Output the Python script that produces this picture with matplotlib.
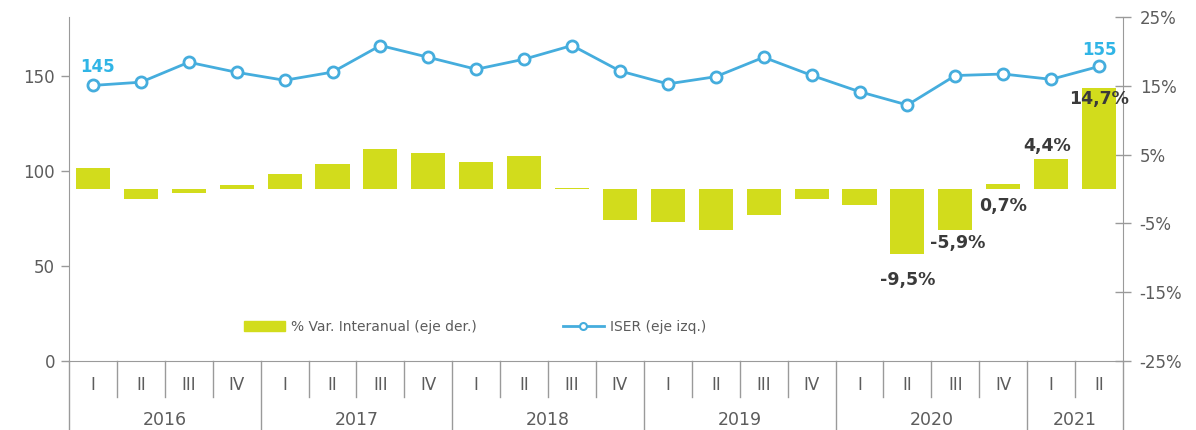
import matplotlib
matplotlib.use("Agg")
import matplotlib.pyplot as plt
import matplotlib.transforms as mtransforms
from matplotlib.lines import Line2D
from matplotlib.patches import Patch

# ---- data ----
years = ["2016", "2017", "2018", "2019", "2020", "2021"]
quarters_per_year = [4, 4, 4, 4, 4, 2]
quarter_names = ["I", "II", "III", "IV"]
iser = [145, 146.7, 157.2, 151.9, 147.7, 152.0, 166.0, 159.8, 153.5, 158.8, 166.0,
        152.6, 145.8, 149.6, 159.8, 150.3, 141.7, 134.7, 150.2, 151.0, 148.2, 155]
var_ia = [3.0, -1.45, -0.6, 0.6, 2.2, 3.7, 5.8, 5.2, 3.9, 4.75, 0.2,
          -4.5, -4.85, -5.9, -3.8, -1.45, -2.3, -9.5, -5.9, 0.7, 4.4, 14.7]
bar_labels = {17: "-9,5%", 18: "-5,9%", 19: "0,7%", 20: "4,4%", 21: "14,7%"}
bar_label_offsets = {17: (0, -18.5), 18: (2, -10), 19: (0, -15.5), 20: (-3, 9), 21: (0, -8)}
line_labels = {0: "145", 21: "155"}
line_label_offsets = {0: (3, 13.5), 21: (0, 11.5)}
left_ticks = [0, 50, 100, 150]
right_ticks = [-25, -15, -5, 5, 15, 25]
legend_bar = "% Var. Interanual (eje der.)"
legend_line = "ISER (eje izq.)"

BAR_C = "#D2DC1C"
LINE_C = "#45ADDD"
LAB_C = "#30B5E6"
TXT_C = "#5c5c5c"
AX_C = "#9a9a9a"
DARK = "#3a3a3a"

plt.rcParams["font.family"] = ["DejaVu Sans"]

fig = plt.figure(figsize=(11.96, 4.30), dpi=100)
ax = fig.add_axes([69 / 1196, 1 - 361 / 430, (1123 - 69) / 1196, 344 / 430])
ax2 = ax.twinx()
ax.set_zorder(ax2.get_zorder() + 1)
ax.patch.set_visible(False)

n = len(iser)
x = list(range(n))

ax2.bar(x, var_ia, width=0.71, color=BAR_C, zorder=2)
ax.plot(x, iser, color=LINE_C, lw=2.0, marker="o", ms=8, mfc="white",
        mec=LINE_C, mew=2, zorder=3)

ax.set_xlim(-0.5, n - 0.5)
ax.set_ylim(0, 181)
ax2.set_ylim(-25, 25)

ax.set_yticks(left_ticks)
ax.set_yticklabels([str(v) for v in left_ticks])
ax2.set_yticks(right_ticks)
ax2.set_yticklabels([f"{v}%" for v in right_ticks])

for a in (ax, ax2):
    a.set_xticks([])
    for s in a.spines.values():
        s.set_visible(False)

ax.spines["left"].set_visible(True)
ax.spines["left"].set_color(AX_C)
ax.spines["bottom"].set_visible(True)
ax.spines["bottom"].set_color(AX_C)
ax2.spines["right"].set_visible(True)
ax2.spines["right"].set_color(AX_C)

ax.tick_params(axis="y", colors=AX_C, labelcolor=TXT_C, labelsize=12,
               length=6, width=1, pad=4)
ax2.tick_params(axis="y", colors=AX_C, labelcolor=TXT_C, labelsize=12,
                direction="inout", length=12, width=1, pad=6)

# category axis
trans = mtransforms.blended_transform_factory(ax.transData, ax.transAxes)
q_depth = -36 / 344
y_depth = -69 / 344
ax.plot([-0.5, -0.5], [0, y_depth], transform=trans, color=AX_C, lw=1, clip_on=False)
ax.plot([n - 0.5, n - 0.5], [0, y_depth], transform=trans, color=AX_C, lw=1, clip_on=False)
pos = 0
for yr, nq in zip(years, quarters_per_year):
    for q in range(nq):
        ax.text(pos + q, -24 / 344, quarter_names[q], transform=trans, ha="center",
                va="center", fontsize=12, color=TXT_C)
        if q > 0:
            ax.plot([pos + q - 0.5] * 2, [0, q_depth], transform=trans, color=AX_C,
                    lw=1, clip_on=False)
    ax.text(pos + (nq - 1) / 2, -59 / 344, yr, transform=trans, ha="center",
            va="center", fontsize=12.5, color=TXT_C)
    pos += nq
    if pos < n:
        ax.plot([pos - 0.5] * 2, [0, y_depth], transform=trans, color=AX_C, lw=1,
                clip_on=False)

# annotations
for i, lab in line_labels.items():
    ax.annotate(lab, (i, iser[i]), xytext=line_label_offsets[i], textcoords="offset points",
                ha="center", va="center", fontsize=12, fontweight="bold", color=LAB_C)
for i, lab in bar_labels.items():
    ax2.annotate(lab, (i, var_ia[i]), xytext=bar_label_offsets[i], textcoords="offset points",
                 ha="center", va="center", fontsize=12.5, fontweight="bold", color=DARK,
                 zorder=5)

handles = [Patch(color=BAR_C), Line2D([], [], color=LINE_C, lw=2, marker="o", ms=5,
                                      mfc="white", mec=LINE_C, mew=1.5)]
leg = ax.legend(handles, [legend_bar, legend_line], loc="center",
                bbox_to_anchor=(0.385, 0.099), ncol=2, frameon=False, fontsize=10,
                handlelength=3.0, columnspacing=6.2, handletextpad=0.4,
                labelcolor=TXT_C)

fig.savefig("out.png", dpi=100)
